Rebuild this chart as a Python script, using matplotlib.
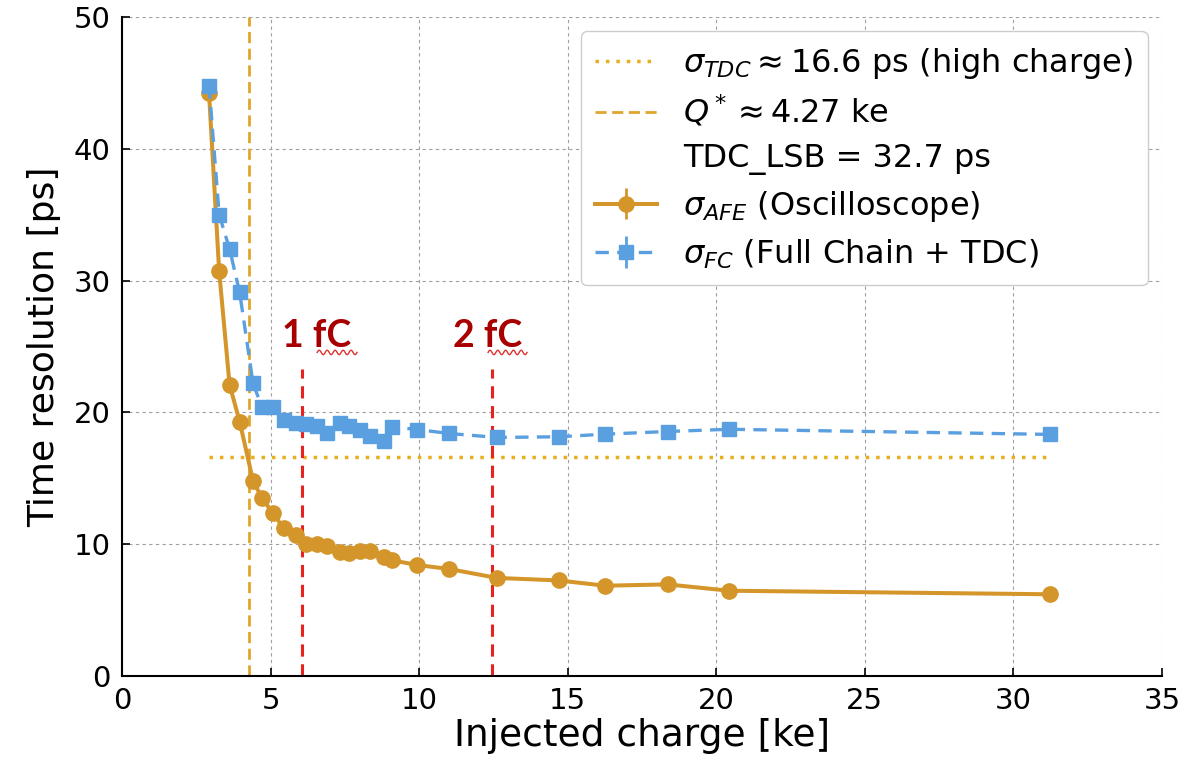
import numpy as np
import matplotlib
matplotlib.use("Agg")
import matplotlib.pyplot as plt

# ---- data ----
charge_ke = [2.93, 3.27, 3.62, 3.96, 4.41, 4.71, 5.08, 5.45, 5.85, 6.18, 6.55, 6.90, 7.33,
             7.63, 8.01, 8.35, 8.83, 9.10, 9.94, 11.01, 12.62, 14.70, 16.26, 18.36, 20.43, 31.24]
sigma_afe = [44.2, 30.7, 22.1, 19.3, 14.8, 13.5, 12.35, 11.2, 10.7, 10.0, 10.0, 9.86, 9.4,
             9.33, 9.45, 9.48, 9.03, 8.77, 8.42, 8.12, 7.44, 7.25, 6.85, 6.95, 6.47, 6.2]
sigma_fc = [44.8, 35.0, 32.4, 29.1, 22.2, 20.4, 20.4, 19.4, 19.2, 19.1, 19.0, 18.4, 19.2,
            19.0, 18.7, 18.2, 17.8, 18.9, 18.7, 18.4, 18.1, 18.15, 18.35, 18.55, 18.72, 18.33]
err_afe = [0.3, 0.2, 0.2, 0.2, 0.15, 0.15, 0.15, 0.1, 0.1, 0.1, 0.1, 0.1, 0.1,
           0.1, 0.1, 0.1, 0.1, 0.1, 0.1, 0.1, 0.1, 0.1, 0.1, 0.1, 0.1, 0.1]
err_fc = [0.3, 0.2, 0.2, 0.2, 0.15, 0.15, 0.15, 0.1, 0.1, 0.1, 0.1, 0.1, 0.1,
          0.1, 0.1, 0.1, 0.1, 0.1, 0.1, 0.1, 0.1, 0.1, 0.1, 0.1, 0.1, 0.1]
sigma_tdc = 16.6
q_star = 4.27
fc_marks = [6.05, 12.45]
fc_labels = ["1 fC", "2 fC"]
fc_label_x = [5.40, 11.15]
fc_squiggle = [(6.57, 7.91), (12.32, 13.63)]
fc_line_top = 23.3
xticks = [0, 5, 10, 15, 20, 25, 30, 35]
yticks = [0, 10, 20, 30, 40, 50]

# ---- colours ----
c_afe = "#D4962A"
c_fc = "#5A9FE0"
c_tdc = "#E8AE1E"
c_q = "#E0A52C"
c_red = "#E8221E"
c_txt = "#A80000"

fig = plt.figure(figsize=(11.94, 7.6), dpi=100)
ax = fig.add_axes([122 / 1194, 1 - 676 / 760, (1162 - 122) / 1194, (676 - 17) / 760])

ax.set_xlim(0, 35)
ax.set_ylim(0, 50)
ax.set_xticks(xticks)
ax.set_yticks(yticks)
ax.grid(True, color="#A0A0A0", linestyle=(0, (3, 3)), linewidth=0.8)
ax.set_axisbelow(True)
for s in ["top", "right"]:
    ax.spines[s].set_visible(False)
for s in ["left", "bottom"]:
    ax.spines[s].set_linewidth(1.5)
ax.tick_params(direction="in", length=6, width=1.2, labelsize=21, pad=8)

h_tdc, = ax.plot([charge_ke[0], charge_ke[-1]], [sigma_tdc, sigma_tdc], linestyle=(0, (1, 2)),
                 color=c_tdc, linewidth=2.5)
h_q = ax.axvline(q_star, color=c_q, linestyle=(0, (4, 2)), linewidth=2)
h_lsb, = ax.plot([], [], linestyle="none")

for xm in fc_marks:
    ax.plot([xm, xm], [0, fc_line_top], color=c_red, linestyle=(0, (4, 2.5)), linewidth=2.2)

h_afe = ax.errorbar(charge_ke, sigma_afe, yerr=err_afe, color=c_afe, marker="o", markersize=11,
                    linewidth=2.9, elinewidth=2, capsize=0)
h_fc = ax.errorbar(charge_ke, sigma_fc, yerr=err_fc, color=c_fc, marker="s", markersize=10.5,
                   linewidth=2.4, linestyle=(0, (4, 2.5)), elinewidth=2, capsize=0)

# 1 fC / 2 fC annotations
for xl, lab in zip(fc_label_x, fc_labels):
    ax.text(xl, 25.8, lab, color=c_txt, fontsize=27, fontweight="bold",
            family=["Lato", "DejaVu Sans"], ha="left", va="center")

# wavy spell-check underline under "fC"
for x0, x1 in fc_squiggle:
    xs = np.linspace(x0, x1, 60)
    ys = 24.55 + 0.17 * np.sin((xs - x0) / (x1 - x0) * 2 * np.pi * 5)
    ax.plot(xs, ys, color="#E03030", linewidth=1.0)

ax.set_xlabel("Injected charge [ke]", fontsize=27, labelpad=2)
ax.set_ylabel("Time resolution [ps]", fontsize=26, labelpad=9)

leg = ax.legend([h_tdc, h_q, h_lsb, h_afe, h_fc],
                [r"$\sigma_{TDC} \approx 16.6$ ps (high charge)",
                 r"$Q^* \approx 4.27$ ke",
                 "TDC_LSB = 32.7 ps",
                 r"$\sigma_{AFE}$ (Oscilloscope)",
                 r"$\sigma_{FC}$ (Full Chain + TDC)"],
                loc="upper right", fontsize=23, framealpha=1, edgecolor="#CCCCCC",
                fancybox=True, borderaxespad=0.45, labelspacing=0.42, handlelength=1.95,
                handletextpad=0.8, borderpad=0.45)
leg.get_frame().set_linewidth(1.0)

fig.savefig("out.png", dpi=100)
